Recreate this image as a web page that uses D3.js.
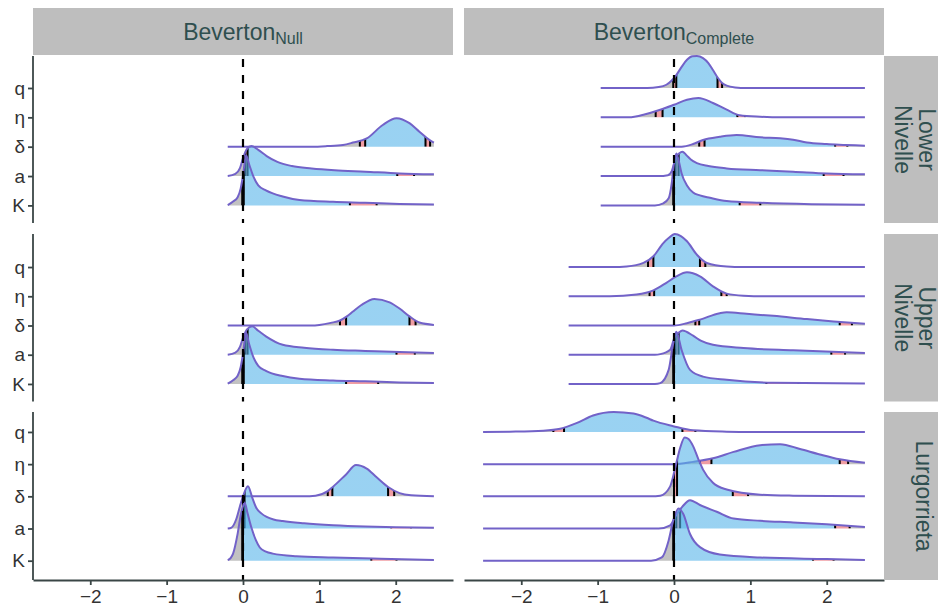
<!DOCTYPE html>
<html><head><meta charset="utf-8">
<script src="https://cdn.jsdelivr.net/npm/d3@7"></script>
<style>body{margin:0;background:#fff}svg{display:block}</style>
</head><body><svg id="chart" width="938" height="608"></svg>
<script>
// ---------------- data ----------------
const params = ["K", "a", "δ", "η", "q"];               // bottom -> top
const models = ["Null", "Complete"];
const sites = ["Lower\nNivelle", "Upper\nNivelle", "Lurgorrieta"];
const xTicks = [-2, -1, 0, 1, 2];
const xLimits = [-2.5, 2.5];

// density curves: [x, height in category units]; quantiles: [2.5%, 5%, 95%, 97.5%]
// Null model, Lower Nivelle
const dens_Null_Lower_delta = [[-0.2,0],[0.9,0],[1.1,0.02],[1.31,0.06],[1.44,0.14],[1.62,0.28],[1.83,0.74],[2.01,0.97],[2.18,0.80],[2.31,0.51],[2.44,0.23],[2.5,0.14]];
const qnt_Null_Lower_delta = [1.53,1.60,2.39,2.45];
const dens_Null_Lower_a = [[-0.2,0],[-0.1,0.07],[-0.04,0.27],[0.0,0.61],[0.05,0.92],[0.11,1.02],[0.2,0.89],[0.31,0.68],[0.45,0.48],[0.64,0.34],[0.9,0.26],[1.2,0.20],[1.6,0.15],[2.05,0.09],[2.5,0.06]];
const qnt_Null_Lower_a = [0.03,0.06,2.02,2.24];
const dens_Null_Lower_K = [[-0.2,0.01],[-0.13,0.13],[-0.07,0.28],[-0.03,0.58],[0.0,1.02],[0.04,1.71],[0.08,1.40],[0.14,0.96],[0.2,0.68],[0.3,0.51],[0.52,0.30],[0.74,0.18],[1.18,0.12],[1.6,0.09],[2.05,0.05],[2.5,0.03]];
const qnt_Null_Lower_K = [-0.01,0.01,1.40,1.75];
// Null model, Upper Nivelle
const dens_Null_Upper_delta = [[-0.2,0],[0.9,0],[1.0,0.02],[1.15,0.09],[1.27,0.17],[1.36,0.31],[1.44,0.48],[1.55,0.70],[1.72,0.91],[1.92,0.79],[2.05,0.58],[2.18,0.31],[2.31,0.10],[2.5,0.02]];
const qnt_Null_Upper_delta = [1.27,1.35,2.18,2.26];
const dens_Null_Upper_a = [[-0.2,0],[-0.1,0.07],[-0.04,0.27],[0.0,0.58],[0.05,0.86],[0.12,0.97],[0.2,0.82],[0.3,0.63],[0.52,0.34],[0.8,0.24],[1.18,0.17],[1.6,0.13],[2.05,0.09],[2.5,0.06]];
const qnt_Null_Upper_a = [0.03,0.06,2.01,2.25];
const dens_Null_Upper_K = [[-0.2,0.01],[-0.13,0.13],[-0.07,0.28],[-0.03,0.58],[0.0,1.03],[0.04,1.75],[0.08,1.37],[0.14,0.89],[0.2,0.62],[0.3,0.45],[0.52,0.27],[0.74,0.18],[1.18,0.12],[1.6,0.09],[2.05,0.05],[2.5,0.03]];
const qnt_Null_Upper_K = [-0.01,0.01,1.35,1.77];
// Null model, Lurgorrieta
const dens_Null_Lurg_delta = [[-0.2,0],[0.8,0],[0.95,0.02],[1.11,0.16],[1.18,0.30],[1.35,0.68],[1.48,0.97],[1.62,0.86],[1.75,0.59],[1.9,0.29],[2.05,0.10],[2.2,0.03],[2.5,0]];
const qnt_Null_Lurg_delta = [1.11,1.17,1.90,1.98];
const dens_Null_Lurg_a = [[-0.2,0],[-0.15,0.03],[-0.09,0.28],[-0.04,0.69],[0.0,1.0],[0.065,1.31],[0.12,0.97],[0.17,0.66],[0.24,0.47],[0.31,0.36],[0.4,0.28],[0.52,0.23],[0.8,0.16],[1.18,0.10],[1.6,0.06],[2.0,0.04],[2.5,0.02]];
const qnt_Null_Lurg_a = [0.0,0.02,1.94,2.20];
const dens_Null_Lurg_K = [[-0.2,0.02],[-0.16,0.09],[-0.13,0.22],[-0.07,0.84],[-0.03,1.41],[0.0,1.69],[0.02,1.81],[0.06,1.47],[0.11,1.03],[0.17,0.63],[0.22,0.41],[0.3,0.28],[0.39,0.22],[0.7,0.14],[1.18,0.10],[1.8,0.06],[2.5,0.02]];
const qnt_Null_Lurg_K = [-0.01,0.0,1.68,2.01];

// Complete model, Lower Nivelle
const dens_Comp_Lower_q = [[-0.96,0],[-0.35,0],[-0.2,0.03],[-0.1,0.11],[0.03,0.44],[0.1,0.72],[0.17,0.96],[0.24,1.08],[0.3,1.09],[0.38,1.02],[0.45,0.85],[0.51,0.61],[0.56,0.40],[0.63,0.17],[0.69,0.08],[0.8,0.02],[0.95,0],[2.5,0]];
const qnt_Comp_Lower_q = [-0.01,0.03,0.57,0.63];
const dens_Comp_Lower_eta = [[-0.96,0],[-0.6,0],[-0.5,0.03],[-0.40,0.09],[-0.18,0.26],[0,0.43],[0.17,0.60],[0.32,0.66],[0.51,0.49],[0.69,0.26],[0.86,0.07],[1.13,0.02],[1.4,0],[2.5,0]];
const qnt_Comp_Lower_eta = [-0.24,-0.15,0.83,0.93];
const dens_Comp_Lower_delta = [[-0.96,0],[0.1,0],[0.25,0.09],[0.38,0.23],[0.6,0.34],[0.82,0.40],[1.13,0.32],[1.39,0.29],[1.56,0.24],[1.74,0.14],[2.0,0.09],[2.25,0.06],[2.5,0.03]];
const qnt_Comp_Lower_delta = [0.33,0.40,2.11,2.27];
const dens_Comp_Lower_a = [[-0.96,0],[-0.2,0],[-0.08,0.03],[-0.03,0.17],[0.0,0.41],[0.03,0.65],[0.07,0.78],[0.11,0.83],[0.16,0.72],[0.22,0.56],[0.3,0.44],[0.45,0.34],[0.69,0.26],[1.13,0.20],[1.56,0.15],[2.0,0.09],[2.5,0.06]];
const qnt_Comp_Lower_a = [0.02,0.06,1.96,2.22];
const dens_Comp_Lower_K = [[-0.96,0],[-0.25,0],[-0.14,0.07],[-0.07,0.24],[-0.03,0.75],[0.0,1.43],[0.03,1.77],[0.06,1.54],[0.10,1.09],[0.17,0.68],[0.25,0.44],[0.34,0.34],[0.47,0.26],[0.69,0.15],[1.13,0.09],[1.8,0.04],[2.5,0.02]];
const qnt_Comp_Lower_K = [-0.01,0.0,0.86,1.13];
// Complete model, Upper Nivelle
const dens_Comp_Upper_q = [[-1.38,0],[-0.8,0],[-0.62,0.02],[-0.40,0.14],[-0.27,0.37],[-0.14,0.82],[-0.07,0.99],[0.01,1.13],[0.09,1.06],[0.17,0.88],[0.30,0.42],[0.43,0.14],[0.69,0.02],[0.9,0],[2.5,0]];
const qnt_Comp_Upper_q = [-0.34,-0.27,0.34,0.41];
const dens_Comp_Upper_eta = [[-1.38,0],[-0.84,0],[-0.49,0.06],[-0.27,0.20],[-0.1,0.46],[0.03,0.68],[0.17,0.82],[0.34,0.68],[0.51,0.34],[0.69,0.09],[0.91,0.02],[1.2,0],[2.5,0]];
const qnt_Comp_Upper_eta = [-0.32,-0.26,0.62,0.69];
const dens_Comp_Upper_delta = [[-1.38,0],[0.0,0],[0.17,0.08],[0.34,0.20],[0.6,0.42],[0.69,0.45],[0.95,0.40],[1.3,0.33],[1.74,0.22],[2.09,0.14],[2.5,0.06]];
const qnt_Comp_Upper_delta = [0.28,0.33,2.17,2.33];
const dens_Comp_Upper_a = [[-1.38,0],[-0.25,0],[-0.18,0.02],[-0.05,0.17],[0.01,0.62],[0.06,0.75],[0.11,0.83],[0.25,0.65],[0.35,0.48],[0.51,0.34],[0.91,0.23],[1.56,0.15],[2.5,0.06]];
const qnt_Comp_Upper_a = [0.02,0.06,2.06,2.24];
const dens_Comp_Upper_K = [[-1.38,0],[-0.25,0],[-0.18,0.03],[-0.07,0.48],[-0.01,1.39],[0.03,1.79],[0.10,1.16],[0.21,0.48],[0.38,0.25],[0.69,0.14],[1.3,0.04],[2.5,0.02]];
const qnt_Comp_Upper_K = [-0.01,0.0,1.21,1.63];
// Complete model, Lurgorrieta
const dens_Comp_Lurg_q = [[-2.5,0],[-2.15,0.01],[-1.71,0.04],[-1.49,0.10],[-1.27,0.28],[-1.06,0.51],[-0.79,0.62],[-0.53,0.57],[-0.36,0.44],[-0.27,0.35],[-0.01,0.18],[0.25,0.05],[0.69,0.01],[1.0,0],[2.5,0]];
const qnt_Comp_Lurg_q = [-1.58,-1.44,0.11,0.28];
const dens_Comp_Lurg_eta = [[-2.5,0],[0.0,0],[0.25,0.07],[0.51,0.18],[0.78,0.38],[1.13,0.59],[1.39,0.62],[1.65,0.47],[1.91,0.30],[2.17,0.15],[2.5,0.04]];
const qnt_Comp_Lurg_eta = [0.34,0.49,2.17,2.28];
const dens_Comp_Lurg_delta = [[-2.5,0],[-0.3,0],[-0.18,0.02],[-0.05,0.31],[0.03,1.03],[0.08,1.5],[0.14,1.83],[0.19,1.78],[0.25,1.56],[0.32,1.15],[0.38,0.83],[0.51,0.42],[0.69,0.21],[1.13,0.05],[1.56,0.02],[2.5,0]];
const qnt_Comp_Lurg_delta = [0.0,0.04,0.77,0.97];
const dens_Comp_Lurg_a = [[-2.5,0],[-0.2,0],[-0.05,0.10],[0.03,0.42],[0.11,0.68],[0.21,0.88],[0.34,0.73],[0.56,0.52],[0.78,0.31],[1.13,0.24],[1.56,0.19],[2.0,0.13],[2.5,0.05]];
const qnt_Comp_Lurg_a = [0.03,0.08,2.11,2.30];
const dens_Comp_Lurg_K = [[-2.5,0],[-0.3,0],[-0.16,0.10],[-0.07,0.63],[-0.01,1.25],[0.06,1.62],[0.12,1.46],[0.21,0.83],[0.34,0.42],[0.6,0.19],[1.13,0.10],[2.0,0.05],[2.5,0.02]];
const qnt_Comp_Lurg_K = [-0.01,0.0,1.82,2.09];

// table built from the arrays above
const ridges = [
  ["Null",0,"δ",dens_Null_Lower_delta,qnt_Null_Lower_delta],
  ["Null",0,"a",dens_Null_Lower_a,qnt_Null_Lower_a],
  ["Null",0,"K",dens_Null_Lower_K,qnt_Null_Lower_K],
  ["Null",1,"δ",dens_Null_Upper_delta,qnt_Null_Upper_delta],
  ["Null",1,"a",dens_Null_Upper_a,qnt_Null_Upper_a],
  ["Null",1,"K",dens_Null_Upper_K,qnt_Null_Upper_K],
  ["Null",2,"δ",dens_Null_Lurg_delta,qnt_Null_Lurg_delta],
  ["Null",2,"a",dens_Null_Lurg_a,qnt_Null_Lurg_a],
  ["Null",2,"K",dens_Null_Lurg_K,qnt_Null_Lurg_K],
  ["Complete",0,"q",dens_Comp_Lower_q,qnt_Comp_Lower_q],
  ["Complete",0,"η",dens_Comp_Lower_eta,qnt_Comp_Lower_eta],
  ["Complete",0,"δ",dens_Comp_Lower_delta,qnt_Comp_Lower_delta],
  ["Complete",0,"a",dens_Comp_Lower_a,qnt_Comp_Lower_a],
  ["Complete",0,"K",dens_Comp_Lower_K,qnt_Comp_Lower_K],
  ["Complete",1,"q",dens_Comp_Upper_q,qnt_Comp_Upper_q],
  ["Complete",1,"η",dens_Comp_Upper_eta,qnt_Comp_Upper_eta],
  ["Complete",1,"δ",dens_Comp_Upper_delta,qnt_Comp_Upper_delta],
  ["Complete",1,"a",dens_Comp_Upper_a,qnt_Comp_Upper_a],
  ["Complete",1,"K",dens_Comp_Upper_K,qnt_Comp_Upper_K],
  ["Complete",2,"q",dens_Comp_Lurg_q,qnt_Comp_Lurg_q],
  ["Complete",2,"η",dens_Comp_Lurg_eta,qnt_Comp_Lurg_eta],
  ["Complete",2,"δ",dens_Comp_Lurg_delta,qnt_Comp_Lurg_delta],
  ["Complete",2,"a",dens_Comp_Lurg_a,qnt_Comp_Lurg_a],
  ["Complete",2,"K",dens_Comp_Lurg_K,qnt_Comp_Lurg_K]
].map(([model,site,param,pts,qs]) => ({model,site,param,pts,qs,level:params.indexOf(param)+1}));

// ---------------- layout & style ----------------
const colX = [[33,453],[464,884]];
const rowY = [[56,223],[234,401.5],[412,580]];
const stripTop = [8,55];
const stripRight = [884,938];
const COL = {gray:"#999999", pink:"#E65C66", blue:"#56B4E9", line:"#7262C8",
             strip:"#BEBEBE", stripText:"#2F4F4F", axis:"#3A4646", tick:"#333333"};
const FONT = "'Liberation Sans', Arial, Helvetica, sans-serif";

const svg = d3.select("#chart");
const defs = svg.append("defs");
const xExp = (xLimits[1]-xLimits[0])*0.05;

let uid = 0;
models.forEach((m, ci) => {
  const x = d3.scaleLinear().domain([xLimits[0]-xExp, xLimits[1]+xExp]).range(colX[ci]);
  sites.forEach((s, ri) => {
    const rowR = ridges.filter(r => r.site === ri);
    const top = Math.max(params.length + 0.6, d3.max(rowR, r => r.level + d3.max(r.pts, p => p[1])));
    const y = d3.scaleLinear().domain([0.4, top]).range([rowY[ri][1], rowY[ri][0]]);
    const g = svg.append("g");
    const panelR = rowR.filter(r => r.model === m).sort((a,b) => b.level - a.level);
    panelR.forEach(r => {
      const id = "r" + (uid++);
      const area = d3.area().x(d => x(d[0])).y0(y(r.level)).y1(d => y(r.level + d[1])).curve(d3.curveMonotoneX);
      const line = d3.line().x(d => x(d[0])).y(d => y(r.level + d[1])).curve(d3.curveMonotoneX);
      const [x0, x1] = colX[ci];
      const off = v => Math.max(0, Math.min(1, (x(v) - x0) / (x1 - x0)));
      const q = r.qs;
      const stops = [[0,COL.gray],[off(q[0]),COL.gray],[off(q[0]),COL.pink],[off(q[1]),COL.pink],
                     [off(q[1]),COL.blue],[off(q[2]),COL.blue],[off(q[2]),COL.pink],[off(q[3]),COL.pink],
                     [off(q[3]),COL.gray],[1,COL.gray]];
      const gr = defs.append("linearGradient").attr("id","g"+id).attr("gradientUnits","userSpaceOnUse")
        .attr("x1",x0).attr("x2",x1).attr("y1",0).attr("y2",0);
      stops.forEach(([o,c]) => gr.append("stop").attr("offset",o).attr("stop-color",c));
      defs.append("clipPath").attr("id","c"+id).append("path").attr("d", area(r.pts));
      g.append("path").attr("d", area(r.pts)).attr("fill","url(#g"+id+")").attr("fill-opacity",0.6);
      g.append("g").attr("clip-path","url(#c"+id+")").selectAll("line").data(q).join("line")
        .attr("x1", d => x(d)).attr("x2", d => x(d))
        .attr("y1", y(r.level)).attr("y2", y(r.level + 3))
        .attr("stroke","#000").attr("stroke-width",2);
      g.append("path").attr("d", line(r.pts)).attr("fill","none")
        .attr("stroke",COL.line).attr("stroke-width",2).attr("stroke-linejoin","round");
    });
    // reference line at 0
    g.append("line").attr("x1",x(0)).attr("x2",x(0)).attr("y1",rowY[ri][0]).attr("y2",rowY[ri][1])
      .attr("stroke","#000").attr("stroke-width",2.2).attr("stroke-dasharray","8,8").attr("stroke-dashoffset",13);

    // y axis (left column only)
    if (ci === 0) {
      const ya = svg.append("g").attr("transform",`translate(${colX[0][0]},0)`)
        .call(d3.axisLeft(y).tickValues(params.map((p,i)=>i+1)).tickFormat(i => params[i-1])
          .tickSize(5).tickSizeOuter(0).tickPadding(3));
      ya.select(".domain").attr("d",`M0,${rowY[ri][0]}V${rowY[ri][1]}`);
      styleAxis(ya, 19);
    }
    // x axis (bottom row only)
    if (ri === sites.length - 1) {
      const xa = svg.append("g").attr("transform",`translate(0,${rowY[ri][1]})`)
        .call(d3.axisBottom(x).tickValues(xTicks).tickFormat(d3.format("d"))
          .tickSize(5).tickSizeOuter(0).tickPadding(5));
      styleAxis(xa, 19);
    }
    // right strips
    if (ci === models.length - 1) {
      svg.append("rect").attr("x",stripRight[0]).attr("y",rowY[ri][0])
        .attr("width",stripRight[1]-stripRight[0]).attr("height",rowY[ri][1]-rowY[ri][0]).attr("fill",COL.strip);
      const lines = s.split("\n");
      const cy = (rowY[ri][0]+rowY[ri][1])/2;
      const base = lines.length === 1 ? [915.5] : [918.5, 895];   // baseline x of each rotated line
      lines.forEach((l,i) => svg.append("text")
        .attr("transform",`translate(${base[i]},${cy}) rotate(90)`)
        .attr("text-anchor","middle").attr("font-family",FONT).attr("font-size",23)
        .attr("fill",COL.stripText).text(l));
    }
  });
  // top strip
  svg.append("rect").attr("x",colX[ci][0]).attr("y",stripTop[0]).attr("width",colX[ci][1]-colX[ci][0])
    .attr("height",stripTop[1]-stripTop[0]).attr("fill",COL.strip);
  const tt = svg.append("text").attr("x",(colX[ci][0]+colX[ci][1])/2).attr("y",39.5)
    .attr("text-anchor","middle").attr("font-family",FONT).attr("font-size",23).attr("fill",COL.stripText);
  tt.append("tspan").text("Beverton");
  tt.append("tspan").attr("dy",4).attr("font-size",16).text(m);
});

function styleAxis(a, fs) {
  a.select(".domain").attr("stroke",COL.axis).attr("stroke-width",1.8);
  a.selectAll(".tick line").attr("stroke",COL.axis).attr("stroke-width",1.8);
  a.selectAll(".tick text").attr("fill",COL.tick).attr("font-size",fs).attr("font-family",FONT);
}
</script></body></html>
